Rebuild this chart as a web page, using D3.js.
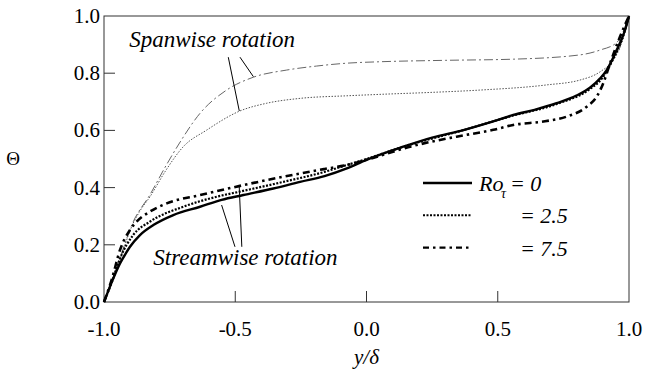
<!DOCTYPE html>
<html>
<head>
<meta charset="utf-8">
<script src="https://cdn.jsdelivr.net/npm/d3@7"></script>
<style>body { margin: 0; background: #fff; }</style>
</head>
<body>
<div id="graph"></div>
<script>
// data: [y/delta, Theta]
var streamRo0 = [[-1,0],[-0.972,0.066],[-0.939,0.135],[-0.917,0.17],[-0.901,0.193],[-0.863,0.234],[-0.812,0.269],
  [-0.736,0.304],[-0.634,0.333],[-0.552,0.357],[-0.469,0.374],[-0.355,0.397],[-0.253,0.42],[-0.16,0.44],[-0.075,0.467],
  [0,0.497],[0.14,0.543],[0.25,0.575],[0.369,0.601],[0.47,0.628],[0.559,0.654],[0.64,0.672],[0.724,0.695],[0.8,0.722],
  [0.851,0.749],[0.89,0.782],[0.915,0.811],[0.953,0.881],[0.985,0.951],[1,1]];
var streamRo25 = [[-1,0],[-0.97,0.07],[-0.94,0.15],[-0.889,0.234],[-0.825,0.281],[-0.698,0.333],[-0.571,0.368],
  [-0.482,0.386],[-0.317,0.42],[-0.16,0.455],[-0.075,0.479],[0,0.5],[0.14,0.543],[0.369,0.601],[0.559,0.652],
  [0.724,0.692],[0.851,0.745],[0.9,0.785],[0.94,0.85],[0.97,0.91],[1,1]];
var streamRo75 = [[-1,0],[-0.97,0.08],[-0.939,0.182],[-0.901,0.252],[-0.876,0.281],[-0.825,0.316],[-0.761,0.345],
  [-0.634,0.374],[-0.482,0.406],[-0.317,0.438],[-0.16,0.465],[-0.075,0.479],[0,0.497],[0.17,0.544],[0.343,0.578],
  [0.483,0.602],[0.559,0.619],[0.68,0.632],[0.762,0.648],[0.839,0.683],[0.877,0.718],[0.902,0.765],[0.928,0.835],
  [0.966,0.928],[1,1]];
var spanRo25 = [[-1,0],[-0.95,0.12],[-0.889,0.275],[-0.862,0.32],[-0.825,0.368],[-0.768,0.455],[-0.698,0.543],
  [-0.609,0.601],[-0.482,0.668],[-0.38,0.695],[-0.253,0.712],[-0.075,0.721],[0.051,0.726],[0.25,0.733],[0.432,0.741],
  [0.686,0.759],[0.813,0.776],[0.89,0.805],[0.94,0.846],[0.97,0.9],[1,1]];
var spanRo75 = [[-1,0],[-0.95,0.125],[-0.889,0.28],[-0.825,0.375],[-0.768,0.47],[-0.717,0.549],[-0.634,0.66],
  [-0.533,0.741],[-0.431,0.786],[-0.304,0.811],[-0.19,0.825],[-0.075,0.835],[0.051,0.84],[0.3,0.845],[0.559,0.849],
  [0.813,0.864],[0.89,0.881],[0.953,0.907],[1,1]];

var xTicks = [-1, -0.5, 0, 0.5, 1];
var yTicks = [0, 0.2, 0.4, 0.6, 0.8, 1];
var legendLabels = ["= 0", "= 2.5", "= 7.5"];

// leader lines for the two notes, in data units
var spanLeaders = [[[-0.5265,0.856],[-0.4846,0.668]], [[-0.482,0.856],[-0.431,0.788]]];
var streamLeaders = [[[-0.552,0.339],[-0.501,0.193]], [[-0.485,0.406],[-0.475,0.193]]];

var FONT = "Liberation Serif";
var fmt = function(d) { return d3.format(".1f")(d).replace("−", "-"); };

// plot box in page pixels
var pL = 104, pT = 16, pR = 629, pB = 302;

var svg = d3.select("#graph")
  .append("svg")
    .attr("width", 645)
    .attr("height", 372);

var x = d3.scaleLinear().domain([-1, 1]).range([pL, pR]);
var y = d3.scaleLinear().domain([0, 1]).range([pB, pT]);

// inward ticks
svg.selectAll(".xt").data(xTicks.slice(1, -1)).enter().append("line")
  .attr("x1", x).attr("x2", x).attr("y1", pB).attr("y2", pB - 11)
  .attr("stroke", "#333");
svg.selectAll(".yt").data(yTicks.slice(1, -1)).enter().append("line")
  .attr("x1", pL).attr("x2", pL + 11).attr("y1", y).attr("y2", y)
  .attr("stroke", "#333");

// frame
svg.append("rect")
  .attr("x", pL).attr("y", pT).attr("width", pR - pL).attr("height", pB - pT)
  .attr("fill", "none").attr("stroke", "#333").attr("stroke-width", 1);

var line = d3.line()
  .x(function(d) { return x(d[0]); })
  .y(function(d) { return y(d[1]); })
  .curve(d3.curveMonotoneX);

// spanwise rotation (thin grey)
svg.append("path").datum(spanRo75)
  .attr("fill", "none").attr("stroke", "#666").attr("stroke-width", 1)
  .attr("stroke-dasharray", "9,3,2,3").attr("d", line);
svg.append("path").datum(spanRo25)
  .attr("fill", "none").attr("stroke", "#555").attr("stroke-width", 1)
  .attr("stroke-dasharray", "1.5,1.5").attr("d", line);

// streamwise rotation (heavy black)
svg.append("path").datum(streamRo75)
  .attr("fill", "none").attr("stroke", "#000").attr("stroke-width", 2.6)
  .attr("stroke-dasharray", "7,4,2.5,4").attr("d", line);
svg.append("path").datum(streamRo25)
  .attr("fill", "none").attr("stroke", "#000").attr("stroke-width", 2.2)
  .attr("stroke-dasharray", "2,1.5").attr("d", line);
svg.append("path").datum(streamRo0)
  .attr("fill", "none").attr("stroke", "#000").attr("stroke-width", 2.4)
  .attr("d", line);

// leader lines
spanLeaders.concat(streamLeaders).forEach(function(s) {
  svg.append("line")
    .attr("x1", x(s[0][0])).attr("y1", y(s[0][1]))
    .attr("x2", x(s[1][0])).attr("y2", y(s[1][1]))
    .attr("stroke", "#000").attr("stroke-width", 1);
});

// legend lines
var dashes = [null, "2,1.5", "6,4,2.5,4"];
legendLabels.forEach(function(lab, i) {
  svg.append("line")
    .attr("x1", 423).attr("x2", 472).attr("y1", 183 + i * 32.3).attr("y2", 183 + i * 32.3)
    .attr("stroke", "#000").attr("stroke-width", i == 1 ? 2 : 2.4)
    .attr("stroke-dasharray", dashes[i]);
});

// all texts
svg.selectAll(".xl").data(xTicks).enter().append("text")
  .attr("x", x).attr("y", 336)
  .attr("text-anchor", "middle").attr("font-family", FONT).attr("font-size", 21)
  .text(fmt);
svg.selectAll(".yl").data(yTicks).enter().append("text")
  .attr("x", pL - 4).attr("y", function(d) { return y(d) + 7; })
  .attr("text-anchor", "end").attr("font-family", FONT).attr("font-size", 21)
  .text(fmt);

svg.append("text")
  .attr("x", x(-0.904)).attr("y", y(0.893))
  .attr("font-family", FONT).attr("font-size", 23).attr("font-style", "italic")
  .text("Spanwise rotation");
svg.append("text")
  .attr("x", x(-0.812)).attr("y", y(0.129))
  .attr("font-family", FONT).attr("font-size", 23).attr("font-style", "italic")
  .text("Streamwise rotation");

legendLabels.forEach(function(lab, i) {
  svg.append("text")
    .attr("x", i == 0 ? 510 : 520).attr("y", 191 + i * 32.3)
    .attr("font-family", FONT).attr("font-size", 22).attr("font-style", "italic")
    .text(lab);
});
svg.append("text").attr("x", 479).attr("y", 191)
  .attr("font-family", FONT).attr("font-size", 22).attr("font-style", "italic")
  .text("Ro");
svg.append("text").attr("x", 501).attr("y", 198)
  .attr("font-family", FONT).attr("font-size", 14).attr("font-style", "italic")
  .text("τ");

svg.append("text")
  .attr("x", (pL + pR) / 2).attr("y", 364)
  .attr("text-anchor", "middle").attr("font-family", FONT).attr("font-size", 21).attr("font-style", "italic")
  .text("y/δ");
svg.append("text")
  .attr("x", 13).attr("y", (pT + pB) / 2 + 6)
  .attr("text-anchor", "middle").attr("font-family", FONT).attr("font-size", 19)
  .text("Θ");
</script>
</body>
</html>
